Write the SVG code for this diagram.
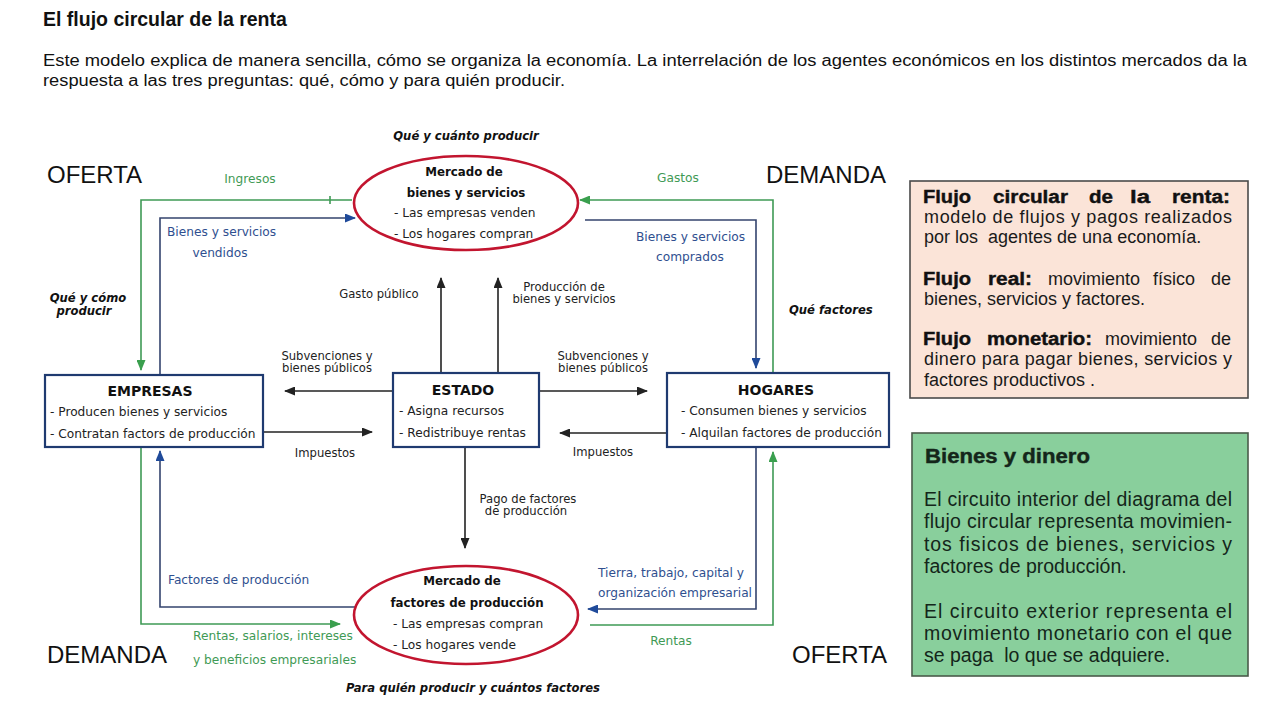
<svg xmlns="http://www.w3.org/2000/svg" width="1280" height="720" viewBox="0 0 1280 720">
<style>
.h{font-family:"Liberation Sans",Arial,sans-serif;fill:#111}
.d{font-family:"DejaVu Sans",Verdana,sans-serif;font-size:12.2px;fill:#222}
.s{font-family:"DejaVu Sans",Verdana,sans-serif;font-size:11.6px;fill:#222}
.db{font-family:"DejaVu Sans",Verdana,sans-serif;font-size:11.8px;font-weight:bold;fill:#111}
.bt{font-family:"DejaVu Sans",Verdana,sans-serif;font-size:14px;font-weight:bold;fill:#111}
.q{font-family:"DejaVu Sans",Verdana,sans-serif;font-size:11.6px;font-weight:bold;font-style:italic;fill:#111}
.g{fill:#3f9a55}
.b{fill:#2f4f8f}
.big{font-family:"Liberation Sans",Arial,sans-serif;font-size:24px;fill:#111}
.box{fill:#fff;stroke:#1f3a70;stroke-width:2.2}
.ell{fill:#fff;stroke:#c2152f;stroke-width:2.6}
.lk{fill:none;stroke:#222;stroke-width:1.6}
.lg{fill:none;stroke:#3f9a55;stroke-width:1.6}
.lb{fill:none;stroke:#34446e;stroke-width:1.6}
.r{font-family:"Liberation Sans",Arial,sans-serif;font-size:18px;fill:#1a1a1a}
.rb{font-family:"Liberation Sans",Arial,sans-serif;font-size:18px;font-weight:bold;fill:#111;stroke:#111;stroke-width:0.4}
.r2{font-family:"Liberation Sans",Arial,sans-serif;font-size:19.5px;fill:#14261a}
</style>
<defs>
<marker id="ak" markerUnits="userSpaceOnUse" markerWidth="11" markerHeight="9" refX="10" refY="4.5" orient="auto"><path d="M0,0 L11,4.5 L0,9 z" fill="#222"/></marker>
<marker id="ag" markerUnits="userSpaceOnUse" markerWidth="11" markerHeight="9" refX="10" refY="4.5" orient="auto"><path d="M0,0 L11,4.5 L0,9 z" fill="#3a9f4e"/></marker>
<marker id="ab" markerUnits="userSpaceOnUse" markerWidth="11" markerHeight="9" refX="10" refY="4.5" orient="auto"><path d="M0,0 L11,4.5 L0,9 z" fill="#1f4a9a"/></marker>
</defs>
<rect width="1280" height="720" fill="#fff"/>

<g id="header">
<text class="h" x="43" y="26" font-size="19.5" font-weight="bold">El flujo circular de la renta</text>
<text class="h" x="43" y="66" font-size="16" textLength="1204" lengthAdjust="spacingAndGlyphs" fill="#222">Este modelo explica de manera sencilla, cómo se organiza la economía. La interrelación de los agentes económicos en los distintos mercados da la</text>
<text class="h" x="43" y="86" font-size="16" textLength="522" lengthAdjust="spacingAndGlyphs" fill="#222">respuesta a las tres preguntas: qué, cómo y para quién producir.</text>
</g>

<g id="corner-labels">
<text class="big" x="47" y="183">OFERTA</text>
<text class="big" x="766" y="183">DEMANDA</text>
<text class="big" x="47" y="663">DEMANDA</text>
<text class="big" x="792" y="663">OFERTA</text>
<text class="q" x="466" y="140" text-anchor="middle">Qué y cuánto producir</text>
<text class="q" x="88" y="302" text-anchor="middle">Qué y cómo</text>
<text class="q" x="84" y="315" text-anchor="middle">producir</text>
<text class="q" x="789" y="314">Qué factores</text>
<text class="q" x="473" y="692" text-anchor="middle">Para quién producir y cuántos factores</text>
</g>

<g id="connectors">
<path class="lg" d="M352,200 H141 V370" marker-end="url(#ag)"/>
<path class="lg" d="M330,196 V204"/>
<path class="lb" d="M160,375 V218 H355" marker-end="url(#ab)"/>
<path class="lg" d="M773,373 V200 H580" marker-end="url(#ag)"/>
<path class="lb" d="M585,220 H756 V368" marker-end="url(#ab)"/>
<path class="lb" d="M357,607 H160 V451" marker-end="url(#ab)"/>
<path class="lg" d="M141,447 V624 H340" marker-end="url(#ag)"/>
<path class="lb" d="M756,447 V609 H588" marker-end="url(#ab)"/>
<path class="lg" d="M590,625 H773 V452" marker-end="url(#ag)"/>
<path class="lk" d="M441,373 V278" marker-end="url(#ak)"/>
<path class="lk" d="M498,373 V278" marker-end="url(#ak)"/>
<path class="lk" d="M393,391 H285" marker-end="url(#ak)"/>
<path class="lk" d="M263,432 H372" marker-end="url(#ak)"/>
<path class="lk" d="M539,391 H647" marker-end="url(#ak)"/>
<path class="lk" d="M667,433 H560" marker-end="url(#ak)"/>
<path class="lk" d="M465,447 V548" marker-end="url(#ak)"/>
</g>

<g id="connector-labels">
<text class="d g" x="250" y="183" text-anchor="middle">Ingresos</text>
<text class="d b" x="167" y="236">Bienes y servicios</text>
<text class="d b" x="220" y="257" text-anchor="middle">vendidos</text>
<text class="d g" x="678" y="182" text-anchor="middle">Gastos</text>
<text class="d b" x="636" y="241">Bienes y servicios</text>
<text class="d b" x="690" y="261" text-anchor="middle">comprados</text>
<text class="d b" x="168" y="584">Factores de producción</text>
<text class="d g" x="193" y="640">Rentas, salarios, intereses</text>
<text class="d g" x="193" y="664">y beneficios empresariales</text>
<text class="d b" x="598" y="577">Tierra, trabajo, capital y</text>
<text class="d b" x="598" y="597">organización empresarial</text>
<text class="d g" x="671" y="645" text-anchor="middle">Rentas</text>
<text class="s" x="379" y="298" text-anchor="middle">Gasto público</text>
<text class="s" x="564" y="291" text-anchor="middle">Producción de</text>
<text class="s" x="564" y="303" text-anchor="middle">bienes y servicios</text>
<text class="s" x="327" y="360" text-anchor="middle">Subvenciones y</text>
<text class="s" x="327" y="372" text-anchor="middle">bienes públicos</text>
<text class="s" x="603" y="360" text-anchor="middle">Subvenciones y</text>
<text class="s" x="603" y="372" text-anchor="middle">bienes públicos</text>
<text class="s" x="325" y="457" text-anchor="middle">Impuestos</text>
<text class="s" x="603" y="456" text-anchor="middle">Impuestos</text>
<text class="s" x="528" y="503" text-anchor="middle">Pago de factores</text>
<text class="s" x="526" y="515" text-anchor="middle">de producción</text>
</g>

<g id="mercado-bienes">
<ellipse class="ell" cx="466" cy="203" rx="112" ry="47"/>
<text class="db" x="464" y="176" text-anchor="middle">Mercado de</text>
<text class="db" x="466" y="197" text-anchor="middle">bienes y servicios</text>
<text class="d" x="394" y="217">- Las empresas venden</text>
<text class="d" x="394" y="238">- Los hogares compran</text>
</g>

<g id="mercado-factores">
<ellipse class="ell" cx="466" cy="615" rx="112" ry="49"/>
<text class="db" x="462" y="585" text-anchor="middle">Mercado de</text>
<text class="db" x="467" y="607" text-anchor="middle">factores de producción</text>
<text class="d" x="393" y="628">- Las empresas compran</text>
<text class="d" x="393" y="649">- Los hogares vende</text>
</g>

<g id="empresas">
<rect class="box" x="45" y="375" width="218" height="72"/>
<text class="bt" x="150" y="396" text-anchor="middle">EMPRESAS</text>
<text class="d" x="50" y="416">- Producen bienes y servicios</text>
<text class="d" x="50" y="438">- Contratan factors de producción</text>
</g>

<g id="estado">
<rect class="box" x="393" y="373" width="146" height="74"/>
<text class="bt" x="463" y="395" text-anchor="middle">ESTADO</text>
<text class="d" x="399" y="415">- Asigna recursos</text>
<text class="d" x="399" y="437">- Redistribuye rentas</text>
</g>

<g id="hogares">
<rect class="box" x="667" y="373" width="222" height="74"/>
<text class="bt" x="776" y="395" text-anchor="middle">HOGARES</text>
<text class="d" x="681" y="415">- Consumen bienes y servicios</text>
<text class="d" x="681" y="437">- Alquilan factores de producción</text>
</g>

<g id="definiciones">
<rect x="910" y="181" width="338" height="217" fill="#fbe4d8" stroke="#4a4a4a" stroke-width="1.6"/>
<text class="rb" x="923" y="203" textLength="48" lengthAdjust="spacingAndGlyphs">Flujo</text>
<text class="rb" x="993" y="203" textLength="75" lengthAdjust="spacingAndGlyphs">circular</text>
<text class="rb" x="1089" y="203" textLength="24" lengthAdjust="spacingAndGlyphs">de</text>
<text class="rb" x="1130" y="203" textLength="20" lengthAdjust="spacingAndGlyphs">la</text>
<text class="rb" x="1172" y="203" textLength="58" lengthAdjust="spacingAndGlyphs">renta:</text>
<text class="r" x="924" y="223" textLength="308" lengthAdjust="spacing">modelo de flujos y pagos realizados</text>
<text class="r" x="924" y="243" xml:space="preserve">por los  agentes de una economía.</text>
<text class="rb" x="923" y="285" textLength="48" lengthAdjust="spacingAndGlyphs">Flujo</text>
<text class="rb" x="988" y="285" textLength="44" lengthAdjust="spacingAndGlyphs">real:</text>
<text class="r" x="1048" y="285">movimiento</text>
<text class="r" x="1153" y="285">físico</text>
<text class="r" x="1231" y="285" text-anchor="end">de</text>
<text class="r" x="924" y="305">bienes, servicios y factores.</text>
<text class="rb" x="923" y="345" textLength="48" lengthAdjust="spacingAndGlyphs">Flujo</text>
<text class="rb" x="987" y="345" textLength="105" lengthAdjust="spacingAndGlyphs">monetario:</text>
<text class="r" x="1105" y="345">movimiento</text>
<text class="r" x="1231" y="345" text-anchor="end">de</text>
<text class="r" x="924" y="365" textLength="308" lengthAdjust="spacing">dinero para pagar bienes, servicios y</text>
<text class="r" x="924" y="386">factores productivos .</text>
</g>

<g id="bienes-dinero">
<rect x="912" y="433" width="336" height="243" fill="#89cf9c" stroke="#4a5a4a" stroke-width="1.6"/>
<text class="r2" x="925" y="463" font-weight="bold" stroke="#14261a" stroke-width="0.4" textLength="165" lengthAdjust="spacingAndGlyphs">Bienes y dinero</text>
<text class="r2" x="924" y="506" textLength="308" lengthAdjust="spacing">El circuito interior del diagrama del</text>
<text class="r2" x="924" y="528" textLength="308" lengthAdjust="spacing">flujo circular representa movimien-</text>
<text class="r2" x="924" y="551" textLength="308" lengthAdjust="spacing">tos fisicos de bienes, servicios y</text>
<text class="r2" x="924" y="573">factores de producción.</text>
<text class="r2" x="924" y="618" textLength="308" lengthAdjust="spacing">El circuito exterior representa el</text>
<text class="r2" x="924" y="640" textLength="308" lengthAdjust="spacing">movimiento monetario con el que</text>
<text class="r2" x="924" y="662" xml:space="preserve">se paga  lo que se adquiere.</text>
</g>
</svg>
